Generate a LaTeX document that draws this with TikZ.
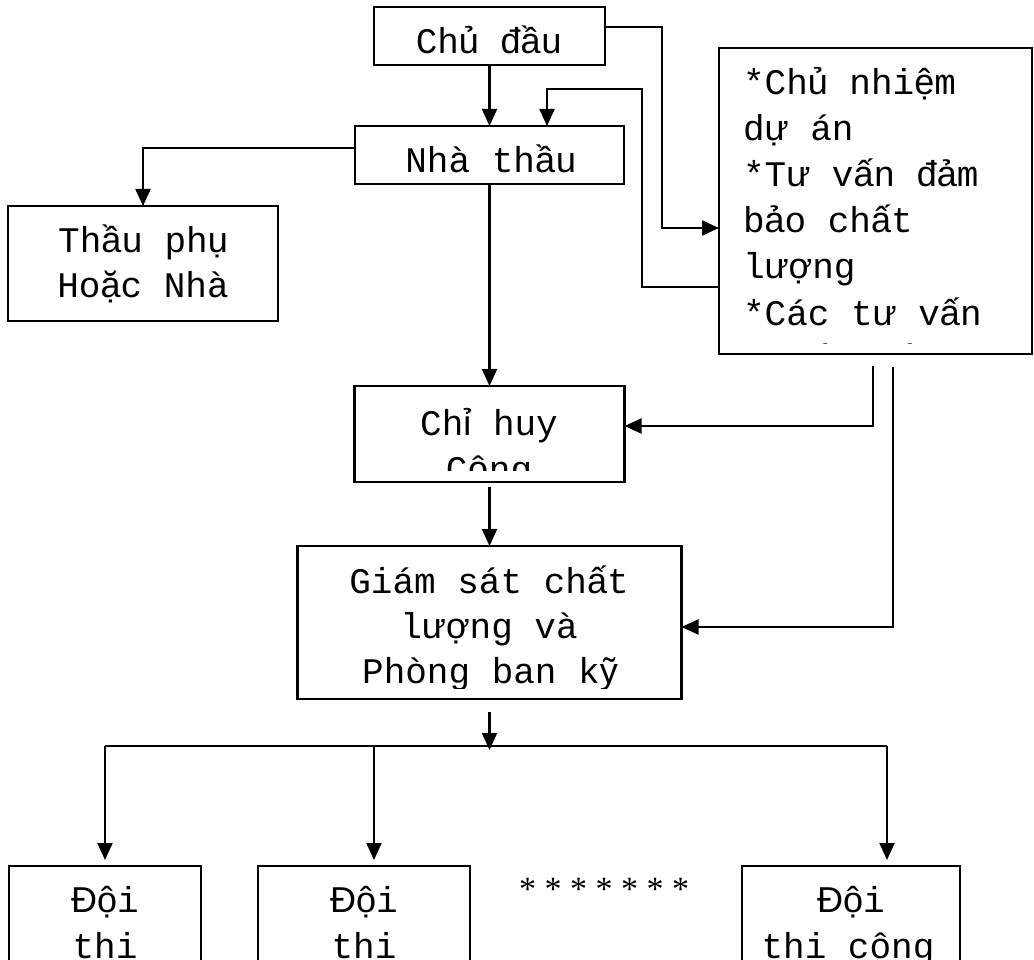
\documentclass[tikz,border=0pt]{standalone}
\usepackage{fontspec}
\setmainfont{Liberation Mono}
\newfontfamily\vnfont{Liberation Sans}
\newfontfamily\saofont{Liberation Serif}
\usetikzlibrary{arrows.meta}
\newcommand{\vn}[1]{{\vnfont #1}}

\begin{document}
\begin{tikzpicture}[
  x=1pt, y=-1pt,
  box/.style={draw, rectangle, inner sep=0pt, outer sep=0pt},
  txt/.style={anchor=base, inner sep=0pt, font=\fontsize{36}{46}\selectfont},
  arr/.style={-{Triangle[length=17pt,width=15pt]}},
  line width=2.1pt
]
  \useasboundingbox (0,0) rectangle (1034,960);
  \clip (0,0) rectangle (1034,960);
  \fill[white] (0,0) rectangle (1034,960);

  % cac hop
  \node[box, minimum width=231pt, minimum height=58pt] (chudau) at (489.5,36) {};
  \node[box, minimum width=269pt, minimum height=58pt] (nhathau) at (489.5,155) {};
  \node[box, minimum width=270pt, minimum height=115pt] (thauphu) at (143,263.5) {};
  \node[box, minimum width=313pt, minimum height=306pt] (tuvan) at (875.5,201) {};
  \node[box, minimum width=270pt, minimum height=96pt] (chihuy) at (489.5,434) {};
  \node[box, minimum width=384pt, minimum height=153pt] (giamsat) at (489.5,622.5) {};
  \node[box, minimum width=192pt, minimum height=144pt] (doi1) at (105,938) {};
  \node[box, minimum width=212pt, minimum height=144pt] (doi2) at (364,938) {};
  \node[box, minimum width=218pt, minimum height=144pt] (doi3) at (851,938) {};

  % chu
  \node[txt] (tchudau) at (489,54) {Ch\vn{ủ} \vn{đầ}u};
  \node[txt] (tnhathau) at (491,173) {Nhà th\vn{ầ}u};
  \node[txt] (tthau1) at (143,253) {Th\vn{ầ}u ph\vn{ụ}};
  \node[txt] (tthau2) at (143,298) {Ho\vn{ặ}c Nhà};
  \begin{scope}
    \clip (721,50) rectangle (1030,343);
    \foreach \t [count=\i from 0] in {*Ch\vn{ủ} nhi\vn{ệ}m, d\vn{ự} án,
        *T\vn{ư} v\vn{ấ}n \vn{đả}m, b\vn{ả}o ch\vn{ấ}t, l\vn{ượ}ng,
        *Các t\vn{ư} v\vn{ấ}n, thi\vn{ế}t k\vn{ế}}
      \node[txt, anchor=base west] (tv\i) at (742,95+46*\i) {\t};
  \end{scope}
  \begin{scope}
    \clip (356,388) rectangle (622,470);
    \node[txt] (tchihuy1) at (489,435) {Ch\vn{ỉ} huy};
    \node[txt] (tchihuy2) at (489,481) {Công};
  \end{scope}
  \begin{scope}
    \clip (299,548) rectangle (679,688);
    \node[txt] (tgiamsat1) at (489,593) {Giám sát ch\vn{ấ}t};
    \node[txt] (tgiamsat2) at (489,638) {l\vn{ượ}ng và};
    \node[txt] (tgiamsat3) at (490,683) {Phòng ban k\vn{ỹ}};
  \end{scope}
  \node[txt] (tdoi1a) at (105,912) {\vn{Độ}i};
  \node[txt] (tdoi1b) at (105,958) {thi};
  \node[txt] (tdoi2a) at (364,912) {\vn{Độ}i};
  \node[txt] (tdoi2b) at (364,958) {thi};
  \node[txt] (tdoi3a) at (851,912) {\vn{Độ}i};
  \node[txt] (tdoi3b) at (848,958) {thi công};
  \node[txt, font=\saofont\fontsize{34}{44}\selectfont] (sao) at (604,900) {* * * * * * *};

  % duong noi
  \coordinate (c1) at (662,27);
  \coordinate (c2) at (662,228);
  \coordinate (r1) at (642,287);
  \coordinate (r2) at (547,89);
  \coordinate (s1) at (143,148);
  \coordinate (v1) at (873,366);
  \coordinate (v1b) at (873,426);
  \coordinate (v2) at (893,367);
  \coordinate (v2b) at (893,627);
  \coordinate (b0) at (489.5,750);
  \coordinate (b1) at (105,746);
  \coordinate (b2) at (374,746);
  \coordinate (b3) at (887,746);

  \draw[arr] (chudau) -- (nhathau);
  \draw[arr] (chudau.east |- c1) -- (c1) -- (c2) -- (tuvan.west |- c2);
  \draw[arr] (tuvan.west |- r1) -- (r1) -- (r1 |- r2) -- (r2) -- (r2 |- nhathau.north);
  \draw[arr] (nhathau.west |- s1) -- (s1) -- (thauphu.north);
  \draw[arr] (nhathau) -- (chihuy);
  \draw[arr] (v1) -- (v1b) -- (chihuy.east |- v1b);
  \draw[arr] (v2) -- (v2b) -- (giamsat.east |- v2b);
  \draw[arr, shorten <=5pt] (chihuy) -- (giamsat);
  \draw[arr, shorten <=13pt] (giamsat.south) -- (b0);
  \draw (b1) -- (b3);
  \draw[arr, shorten >=6pt] (b1) -- (b1 |- doi1.north);
  \draw[arr, shorten >=6pt] (b2) -- (b2 |- doi2.north);
  \draw[arr, shorten >=6pt] (b3) -- (b3 |- doi3.north);
\end{tikzpicture}
\end{document}
